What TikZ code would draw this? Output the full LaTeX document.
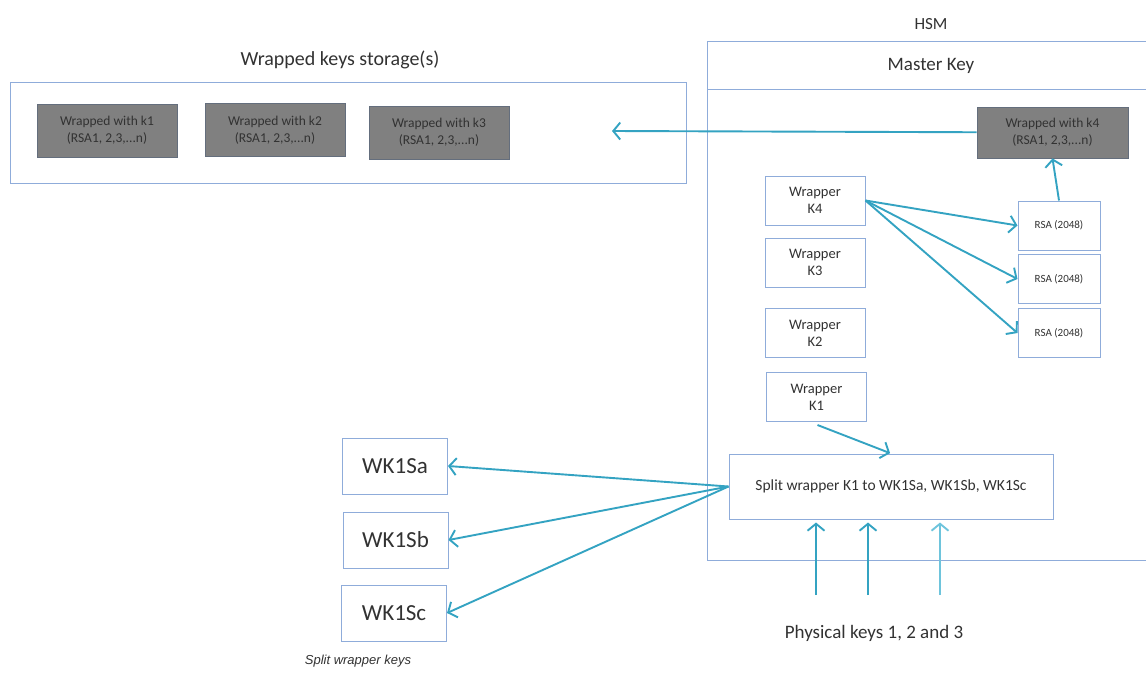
\documentclass[tikz,border=0pt]{standalone}
\usepackage{fontspec}
\setmainfont{Carlito}
\newfontfamily\arialfont{Liberation Sans}
\usetikzlibrary{arrows.meta}
\definecolor{boxblue}{RGB}{143,172,218}
\definecolor{linkteal}{RGB}{52,163,194}
\definecolor{lightteal}{RGB}{110,196,220}
\definecolor{keygray}{RGB}{128,128,128}
\definecolor{keyedge}{RGB}{100,110,125}
\definecolor{inkgray}{RGB}{50,50,50}
\begin{document}
\begin{tikzpicture}[x=1pt,y=-1pt,
	every node/.style={text=inkgray,inner sep=0pt,align=center},
	plainbox/.style={draw=boxblue,line width=1pt},
	wrapbox/.style={plainbox,minimum width=100,minimum height=49,font=\fontsize{14.5}{17}\selectfont},
	rsabox/.style={plainbox,minimum width=82,minimum height=49,font=\fontsize{11}{13}\selectfont},
	splitbox/.style={plainbox,minimum width=105,minimum height=56,font=\fontsize{23}{26}\selectfont},
	keybox/.style={draw=keyedge,fill=keygray,line width=0.8pt,minimum width=140,minimum height=53,font=\fontsize{13.5}{17}\selectfont},
	link/.style={draw=linkteal,line width=1.9pt,-{Straight Barb[length=7pt,width=17pt]}}]
	\useasboundingbox (0,0) rectangle (1146,673);
	% storage
	\node[font=\fontsize{20}{24}\selectfont] (storelabel) at (340,60) {Wrapped keys storage(s)};
	\node[plainbox,minimum width=676,minimum height=101] (store) at (348,132.5) {};
	\node[keybox] (wk1) at (107,130.5) {Wrapped with k1\\(RSA1, 2,3,...n)};
	\node[keybox] (wk2) at (275,130) {Wrapped with k2\\(RSA1, 2,3,...n)};
	\node[keybox] (wk3) at (439,132.5) {Wrapped with k3\\(RSA1, 2,3,...n)};
	\coordinate (storein) at (612,131);
	% HSM
	\draw[boxblue,line width=1pt] (1146,41) -- (707,41) -- (707,560) -- (1146,560);
	\draw[boxblue,line width=1pt] (707,89) -- (1146,89);
	\node[font=\fontsize{17}{20}\selectfont] (hsm) at (931,24) {HSM};
	\node[font=\fontsize{19}{22}\selectfont] (master) at (931,66) {Master Key};
	\node[keybox,minimum width=151,minimum height=51] (wk4) at (1052.5,132.5) {Wrapped with k4\\(RSA1, 2,3,...n)};
	\node[wrapbox] (wrap4) at (815,200.5) {Wrapper\\K4};
	\node[wrapbox] (wrap3) at (815,262.5) {Wrapper\\K3};
	\node[wrapbox] (wrap2) at (815,333) {Wrapper\\K2};
	\node[wrapbox] (wrap1) at (816.5,397) {Wrapper\\K1};
	\node[rsabox] (rsa1) at (1059,225.5) {RSA (2048)};
	\node[rsabox] (rsa2) at (1059,279) {RSA (2048)};
	\node[rsabox] (rsa3) at (1059,333) {RSA (2048)};
	\node[plainbox,minimum width=324,minimum height=65,font=\fontsize{15.5}{18}\selectfont] (split) at (891,486.5) {Split wrapper K1 to WK1Sa, WK1Sb, WK1Sc};
	% split keys
	\node[splitbox] (ska) at (395,466) {WK1Sa};
	\node[splitbox] (skb) at (395.5,540) {WK1Sb};
	\node[splitbox] (skc) at (394,613) {WK1Sc};
	\node[font=\arialfont\itshape\fontsize{13}{16}\selectfont] (skname) at (358,661) {Split wrapper keys};
	% physical keys
	\coordinate (phys1) at (816,595);
	\coordinate (phys2) at (868,595);
	\coordinate (phys3) at (940,595);
	\node[font=\fontsize{19}{22}\selectfont] (physlabel) at (874,633) {Physical keys 1, 2 and 3};
	% arrows
	\draw[link] (wk4) -- (storein);
	\draw[link] (wrap4.east) -- (rsa1.west);
	\draw[link] (wrap4.east) -- (rsa2.west);
	\draw[link] (wrap4.east) -- (rsa3.west);
	\draw[link] (rsa1.north) -- (wk4.south);
	\draw[link,shorten >=1pt] (wrap1.south) ++(1,3) -- (split.north);
	\draw[link] (split.west) -- (ska.east);
	\draw[link] (split.west) -- (skb.east);
	\draw[link] (split.west) -- (skc.east);
	\draw[link,shorten >=3pt] (phys1) -- (phys1 |- split.south);
	\draw[link,shorten >=3pt] (phys2) -- (phys2 |- split.south);
	\draw[link,draw=lightteal,shorten >=3pt] (phys3) -- (phys3 |- split.south);
\end{tikzpicture}
\end{document}
